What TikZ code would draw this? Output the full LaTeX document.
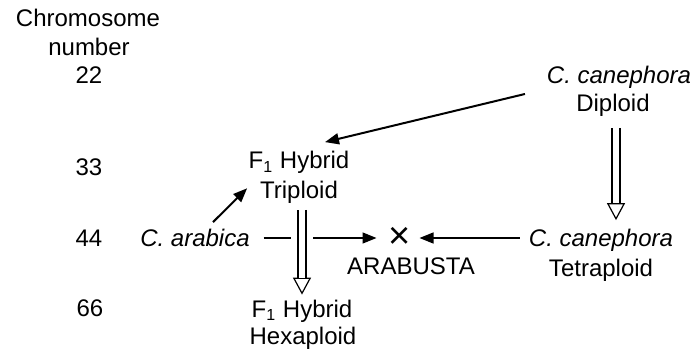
\documentclass[tikz,border=0pt,12pt]{standalone}
\usepackage{fontspec}
\setmainfont{Liberation Sans}
\usetikzlibrary{arrows.meta}

\begin{document}
\begin{tikzpicture}[x=0.5pt, y=0.5pt,
        label style/.style={inner sep=0pt, outer sep=0pt, anchor=base},
        species style/.style={label style, font=\itshape},
        cross arrow/.style={-{Triangle[length=7pt, width=5.5pt]}, line width=0.7pt},
        hybrid arrow/.style={-{Triangle[length=7pt, width=5.5pt]}, line width=1pt},
        double arrow/.style={draw=white, line width=0.6pt,
            -{Triangle[open, color=black, length=8.5pt, width=9pt]},
            preaction={draw=white, line width=11pt, -},
            postaction={draw=black, double=white, line width=0.6pt, double distance=3.4pt, -, shorten >=8.5pt}}]

    \useasboundingbox (0, 0) rectangle (690, 349);

    \node[label style] (chrom) at (88, 322) {Chromosome};
    \node[label style] (num) at (89, 293) {number};
    \node[label style] (n22) at (89, 265.5) {22};
    \node[label style] (n33) at (89, 173.5) {33};
    \node[label style] (n44) at (89, 102.5) {44};
    \node[label style] (n66) at (90, 32.5) {66};

    \node[species style] (dipsp) at (619, 265.5) {C. canephora};
    \node[label style] (diplbl) at (613, 237.5) {Diploid};
    \node[label style] (trisp) at (299, 180.5) {F\textsubscript{1} Hybrid};
    \node[label style] (trilbl) at (299, 150.5) {Triploid};
    \node[species style] (arab) at (195, 102.5) {C. arabica};
    \node[inner sep=0pt, font=\fontsize{19}{19}\selectfont] (cross) at (400, 111) {×};
    \node[label style] (arabusta) at (411, 74.5) {ARABUSTA};
    \node[species style] (tetsp) at (601, 102.5) {C. canephora};
    \node[label style] (tetlbl) at (601, 72.5) {Tetraploid};
    \node[label style] (hexsp) at (302, 32) {F\textsubscript{1} Hybrid};
    \node[label style] (hexlbl) at (303, 5) {Hexaploid};

    \draw[hybrid arrow] ([xshift=-11pt, yshift=-2.75pt]dipsp.south west) -- ([xshift=13pt, yshift=4.5pt]trisp.north);
    \draw[hybrid arrow] ([xshift=9pt, yshift=3.5pt]arab.north) -- ([xshift=-6.5pt, yshift=2pt]trilbl.west);
    \draw[cross arrow, shorten <=7pt, shorten >=6pt] (arab.east |- cross) -- (cross.west);
    \draw[cross arrow, shorten <=4.5pt, shorten >=4pt] (tetsp.west |- cross) -- (cross.east);
    \draw[double arrow] ([xshift=1.5pt, yshift=-5.75pt]diplbl.south) -- ([xshift=7.5pt, yshift=4.5pt]tetsp.north);
    \draw[double arrow] ([xshift=1.5pt, yshift=-3.25pt]trilbl.south) -- ([yshift=2.5pt]hexsp.north);
\end{tikzpicture}
\end{document}
